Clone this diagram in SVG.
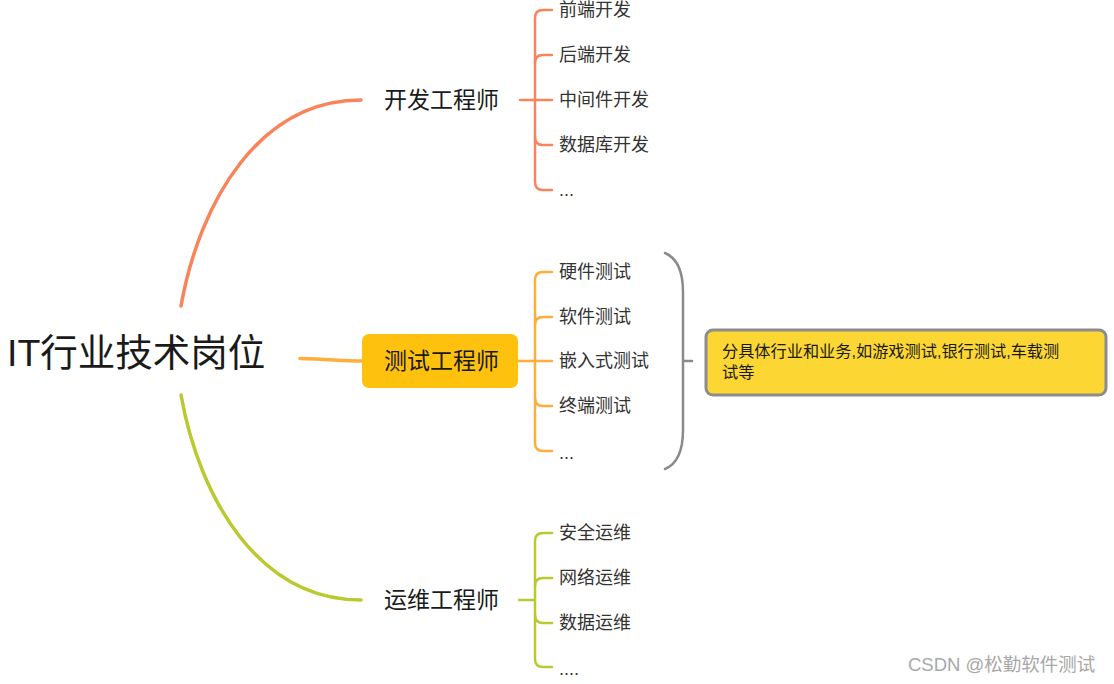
<svg xmlns="http://www.w3.org/2000/svg" width="1114" height="684" viewBox="0 0 1114 684">
<style>
text{font-family:"Liberation Sans","Noto Sans CJK SC",sans-serif;fill:#1a1a1a}
.root{font-size:37.5px}
.main{font-size:23px}
.sub{font-size:18px;fill:#333}
.note{font-size:16.2px}
.wm{font-size:18.5px;fill:#a8a8a8}
.c{fill:none;stroke-linecap:round}
.o{stroke:#f9845a}
.m{stroke:#ffad3c}
.g{stroke:#b9c92f}
.big{stroke-width:3.5}
.br{stroke-width:2.5}
</style>
<rect width="1114" height="684" fill="#fff"/>
<g id="connectors">
<path class="c o big" d="M181,306 C200,200 260,100 361,100"/>
<path class="c m big" d="M300,358.5 C330,359 340,361 362,361"/>
<path class="c g big" d="M181,395 C200,501 260,600 361,600"/>
<g class="c o br">
<path d="M520,100 H552"/>
<path d="M552,10 H543 Q535,10 535,18 V182 Q535,190 543,190 H552"/>
<path d="M535,63 Q535,55 543,55 H552"/>
<path d="M535,137 Q535,145 543,145 H552"/>
</g>
<g class="c m br">
<path d="M518,361 H552"/>
<path d="M552,272 H543 Q535,272 535,280 V443 Q535,451 543,451 H552"/>
<path d="M535,325 Q535,317 543,317 H552"/>
<path d="M535,398 Q535,406 543,406 H552"/>
</g>
<g class="c g br">
<path d="M519,600 H535"/>
<path d="M552,533 H543 Q535,533 535,541 V659 Q535,667 543,667 H552"/>
<path d="M535,586 Q535,578 543,578 H552"/>
<path d="M535,615 Q535,623 543,623 H552"/>
</g>
<path class="c br" stroke="#8a8a8a" d="M665,253 C677,258 683,272 683,292 V430 C683,450 677,464 665,469 M683,361 H692"/>
</g>
<g id="root"><text class="root" x="7" y="366">IT行业技术岗位</text></g>
<g id="dev"><text class="main" x="384" y="108">开发工程师</text></g>
<g id="test"><rect x="362" y="334" width="156" height="54" rx="7" fill="#fec20e"/><text class="main" x="384" y="369">测试工程师</text></g>
<g id="ops"><text class="main" x="384" y="608">运维工程师</text></g>
<g id="dev-items">
<text class="sub" x="559" y="16">前端开发</text>
<text class="sub" x="559" y="61">后端开发</text>
<text class="sub" x="559" y="106">中间件开发</text>
<text class="sub" x="559" y="151">数据库开发</text>
<text class="sub" x="559" y="196">...</text>
</g>
<g id="test-items">
<text class="sub" x="559" y="278">硬件测试</text>
<text class="sub" x="559" y="323">软件测试</text>
<text class="sub" x="559" y="367">嵌入式测试</text>
<text class="sub" x="559" y="412">终端测试</text>
<text class="sub" x="559" y="459">...</text>
</g>
<g id="ops-items">
<text class="sub" x="559" y="539">安全运维</text>
<text class="sub" x="559" y="584">网络运维</text>
<text class="sub" x="559" y="629">数据运维</text>
<text class="sub" x="559" y="675">....</text>
</g>
<g id="note">
<rect x="706" y="330" width="400" height="65" rx="7" fill="#fcd733" stroke="#8c8c8c" stroke-width="3"/>
<text class="note" x="722" y="357">分具体行业和业务,如游戏测试,银行测试,车载测</text>
<text class="note" x="722" y="378">试等</text>
</g>
<g id="watermark"><text class="wm" x="908" y="671">CSDN @松勤软件测试</text></g>
</svg>
